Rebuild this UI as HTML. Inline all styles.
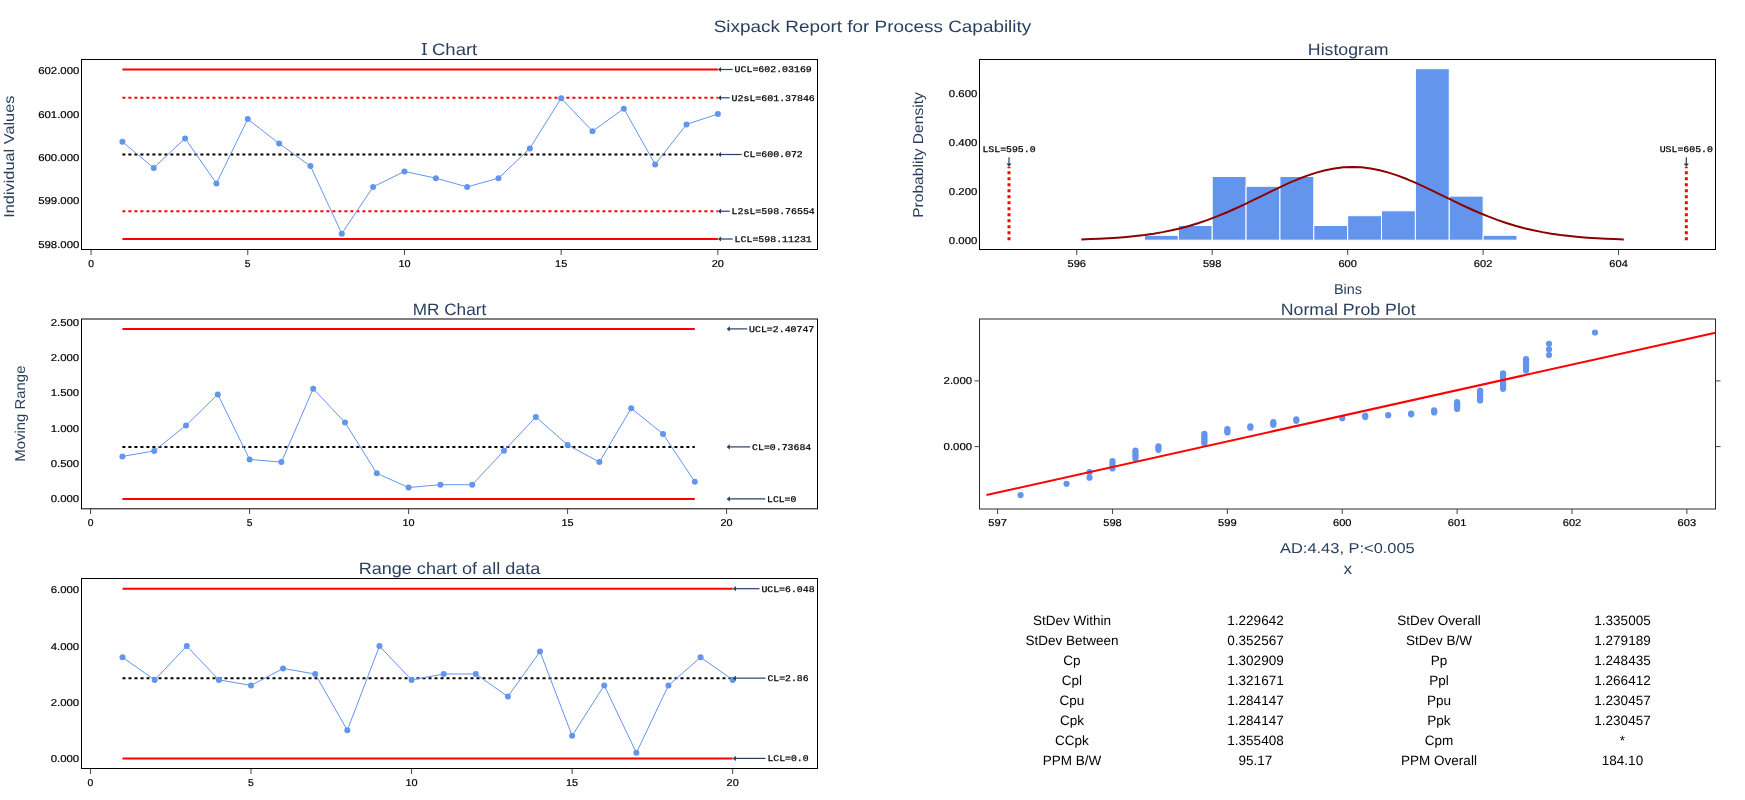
<!DOCTYPE html><html><head><meta charset="utf-8"><style>html,body{margin:0;padding:0;background:#fff;overflow:hidden}svg{display:block;will-change:transform}</style></head><body><svg width="1745" height="800" viewBox="0 0 1745 800" text-rendering="geometricPrecision">
<rect width="1745" height="800" fill="#fff"/>
<text x="872.5" y="31.9" font-family="'Liberation Sans', sans-serif" font-size="16.5" fill="#2a3f5f" text-anchor="middle" textLength="317.5" lengthAdjust="spacingAndGlyphs">Sixpack Report for Process Capability</text>
<text x="449.5" y="54.9" font-family="'Liberation Sans', sans-serif" font-size="16.5" fill="#2a3f5f" text-anchor="middle" textLength="55.5" lengthAdjust="spacingAndGlyphs">I Chart</text>
<line x1="421.8" y1="43.6" x2="427" y2="43.6" stroke="#2a3f5f" stroke-width="1.1"/><line x1="421.8" y1="54.3" x2="427" y2="54.3" stroke="#2a3f5f" stroke-width="1.1"/>
<text x="1348.2" y="54.7" font-family="'Liberation Sans', sans-serif" font-size="16.5" fill="#2a3f5f" text-anchor="middle" textLength="80.7" lengthAdjust="spacingAndGlyphs">Histogram</text>
<text x="449.5" y="315.0" font-family="'Liberation Sans', sans-serif" font-size="16.5" fill="#2a3f5f" text-anchor="middle" textLength="73.3" lengthAdjust="spacingAndGlyphs">MR Chart</text>
<text x="1348.2" y="314.7" font-family="'Liberation Sans', sans-serif" font-size="16.5" fill="#2a3f5f" text-anchor="middle" textLength="134.9" lengthAdjust="spacingAndGlyphs">Normal Prob Plot</text>
<text x="449.5" y="573.9" font-family="'Liberation Sans', sans-serif" font-size="16.5" fill="#2a3f5f" text-anchor="middle" textLength="181.7" lengthAdjust="spacingAndGlyphs">Range chart of all data</text>
<text transform="translate(14.1,156.7) rotate(-90)" x="0" y="0" font-family="&quot;Liberation Sans&quot;, sans-serif" font-size="14.3" fill="#2a3f5f" text-anchor="middle" textLength="122.2" lengthAdjust="spacingAndGlyphs">Individual Values</text>
<text transform="translate(25.1,413.6) rotate(-90)" x="0" y="0" font-family="&quot;Liberation Sans&quot;, sans-serif" font-size="14.3" fill="#2a3f5f" text-anchor="middle" textLength="96.1" lengthAdjust="spacingAndGlyphs">Moving Range</text>
<text transform="translate(923.1,155.0) rotate(-90)" x="0" y="0" font-family="&quot;Liberation Sans&quot;, sans-serif" font-size="14.3" fill="#2a3f5f" text-anchor="middle" textLength="125.6" lengthAdjust="spacingAndGlyphs">Probablity Density</text>
<text x="1348" y="293.8" font-family="'Liberation Sans', sans-serif" font-size="14.3" fill="#2a3f5f" text-anchor="middle" textLength="28" lengthAdjust="spacingAndGlyphs">Bins</text>
<text x="1347.4" y="552.9" font-family="'Liberation Sans', sans-serif" font-size="14.3" fill="#2a3f5f" text-anchor="middle" textLength="134.7" lengthAdjust="spacingAndGlyphs">AD:4.43, P:&lt;0.005</text>
<text x="1347.7" y="573.8" font-family="'Liberation Sans', sans-serif" font-size="15.5" fill="#2a3f5f" text-anchor="middle" textLength="8.6" lengthAdjust="spacingAndGlyphs">x</text>
<rect x="81.5" y="59.5" width="736.0" height="190.0" fill="none" stroke="#000" stroke-width="1"/>
<line x1="91.06" y1="250" x2="91.06" y2="255" stroke="#444" stroke-width="1"/>
<line x1="247.76" y1="250" x2="247.76" y2="255" stroke="#444" stroke-width="1"/>
<line x1="404.46" y1="250" x2="404.46" y2="255" stroke="#444" stroke-width="1"/>
<line x1="561.1600000000001" y1="250" x2="561.1600000000001" y2="255" stroke="#444" stroke-width="1"/>
<line x1="717.8599999999999" y1="250" x2="717.8599999999999" y2="255" stroke="#444" stroke-width="1"/>
<text x="79.39999999999999" y="74.27492800000012" font-family="'Liberation Sans', sans-serif" font-size="10" fill="#000" text-anchor="end" textLength="41.2" lengthAdjust="spacingAndGlyphs" stroke="#000" stroke-width="0.2" stroke-linejoin="round">602.000</text>
<text x="79.39999999999999" y="117.64892800000013" font-family="'Liberation Sans', sans-serif" font-size="10" fill="#000" text-anchor="end" textLength="41.2" lengthAdjust="spacingAndGlyphs" stroke="#000" stroke-width="0.2" stroke-linejoin="round">601.000</text>
<text x="79.39999999999999" y="161.02292800000012" font-family="'Liberation Sans', sans-serif" font-size="10" fill="#000" text-anchor="end" textLength="41.2" lengthAdjust="spacingAndGlyphs" stroke="#000" stroke-width="0.2" stroke-linejoin="round">600.000</text>
<text x="79.39999999999999" y="204.39692800000012" font-family="'Liberation Sans', sans-serif" font-size="10" fill="#000" text-anchor="end" textLength="41.2" lengthAdjust="spacingAndGlyphs" stroke="#000" stroke-width="0.2" stroke-linejoin="round">599.000</text>
<text x="79.39999999999999" y="247.7709280000001" font-family="'Liberation Sans', sans-serif" font-size="10" fill="#000" text-anchor="end" textLength="41.2" lengthAdjust="spacingAndGlyphs" stroke="#000" stroke-width="0.2" stroke-linejoin="round">598.000</text>
<text x="91.06" y="266.8" font-family="'Liberation Sans', sans-serif" font-size="10" fill="#000" text-anchor="middle" textLength="5.76" lengthAdjust="spacingAndGlyphs" stroke="#000" stroke-width="0.2" stroke-linejoin="round">0</text>
<text x="247.76" y="266.8" font-family="'Liberation Sans', sans-serif" font-size="10" fill="#000" text-anchor="middle" textLength="5.76" lengthAdjust="spacingAndGlyphs" stroke="#000" stroke-width="0.2" stroke-linejoin="round">5</text>
<text x="404.46" y="266.8" font-family="'Liberation Sans', sans-serif" font-size="10" fill="#000" text-anchor="middle" textLength="12.12" lengthAdjust="spacingAndGlyphs" stroke="#000" stroke-width="0.2" stroke-linejoin="round">10</text>
<text x="561.1600000000001" y="266.8" font-family="'Liberation Sans', sans-serif" font-size="10" fill="#000" text-anchor="middle" textLength="12.12" lengthAdjust="spacingAndGlyphs" stroke="#000" stroke-width="0.2" stroke-linejoin="round">15</text>
<text x="717.8599999999999" y="266.8" font-family="'Liberation Sans', sans-serif" font-size="10" fill="#000" text-anchor="middle" textLength="12.12" lengthAdjust="spacingAndGlyphs" stroke="#000" stroke-width="0.2" stroke-linejoin="round">20</text>
<line x1="122.4" y1="69.5" x2="717.8599999999999" y2="69.5" stroke="red" stroke-width="2"/>
<line x1="122.4" y1="97.8" x2="717.8599999999999" y2="97.8" stroke="red" stroke-width="2" stroke-dasharray="3,3"/>
<line x1="122.4" y1="154.5" x2="717.8599999999999" y2="154.5" stroke="#000" stroke-width="2" stroke-dasharray="3,3"/>
<line x1="122.4" y1="211.2" x2="717.8599999999999" y2="211.2" stroke="red" stroke-width="2" stroke-dasharray="3,3"/>
<line x1="122.4" y1="239.0" x2="717.8599999999999" y2="239.0" stroke="red" stroke-width="2"/>
<polyline points="122.40,141.80 153.74,167.90 185.08,138.40 216.42,183.40 247.76,119.10 279.10,143.50 310.44,166.10 341.78,233.70 373.12,186.90 404.46,171.40 435.80,178.20 467.14,186.90 498.48,178.20 529.82,148.40 561.16,98.30 592.50,131.20 623.84,108.70 655.18,164.40 686.52,124.40 717.86,114.00" fill="none" stroke="#6495ED" stroke-width="1" stroke-linejoin="round"/>
<circle cx="122.40" cy="141.80" r="3" fill="#6495ED"/>
<circle cx="153.74" cy="167.90" r="3" fill="#6495ED"/>
<circle cx="185.08" cy="138.40" r="3" fill="#6495ED"/>
<circle cx="216.42" cy="183.40" r="3" fill="#6495ED"/>
<circle cx="247.76" cy="119.10" r="3" fill="#6495ED"/>
<circle cx="279.10" cy="143.50" r="3" fill="#6495ED"/>
<circle cx="310.44" cy="166.10" r="3" fill="#6495ED"/>
<circle cx="341.78" cy="233.70" r="3" fill="#6495ED"/>
<circle cx="373.12" cy="186.90" r="3" fill="#6495ED"/>
<circle cx="404.46" cy="171.40" r="3" fill="#6495ED"/>
<circle cx="435.80" cy="178.20" r="3" fill="#6495ED"/>
<circle cx="467.14" cy="186.90" r="3" fill="#6495ED"/>
<circle cx="498.48" cy="178.20" r="3" fill="#6495ED"/>
<circle cx="529.82" cy="148.40" r="3" fill="#6495ED"/>
<circle cx="561.16" cy="98.30" r="3" fill="#6495ED"/>
<circle cx="592.50" cy="131.20" r="3" fill="#6495ED"/>
<circle cx="623.84" cy="108.70" r="3" fill="#6495ED"/>
<circle cx="655.18" cy="164.40" r="3" fill="#6495ED"/>
<circle cx="686.52" cy="124.40" r="3" fill="#6495ED"/>
<circle cx="717.86" cy="114.00" r="3" fill="#6495ED"/>
<line x1="719.8599999999999" y1="69.5" x2="732.7" y2="69.5" stroke="#2a3f5f" stroke-width="1.2"/>
<path d="M717.8599999999999,69.5 L721.06,66.9 L721.06,72.1 Z" fill="#2a3f5f"/>
<text x="773.2" y="72.4" font-family="'Liberation Mono', monospace" font-size="8.7" fill="#000" text-anchor="middle" textLength="77.2" lengthAdjust="spacingAndGlyphs" stroke="#000" stroke-width="0.25" stroke-linejoin="round">UCL=602.03169</text>
<line x1="719.8599999999999" y1="97.8" x2="729.7" y2="97.8" stroke="#2a3f5f" stroke-width="1.2"/>
<path d="M717.8599999999999,97.8 L721.06,95.2 L721.06,100.39999999999999 Z" fill="#2a3f5f"/>
<text x="773.2" y="100.7" font-family="'Liberation Mono', monospace" font-size="8.7" fill="#000" text-anchor="middle" textLength="83.2" lengthAdjust="spacingAndGlyphs" stroke="#000" stroke-width="0.25" stroke-linejoin="round">U2sL=601.37846</text>
<line x1="719.8599999999999" y1="154.5" x2="741.7" y2="154.5" stroke="#2a3f5f" stroke-width="1.2"/>
<path d="M717.8599999999999,154.5 L721.06,151.9 L721.06,157.1 Z" fill="#2a3f5f"/>
<text x="773.2" y="157.4" font-family="'Liberation Mono', monospace" font-size="8.7" fill="#000" text-anchor="middle" textLength="59.2" lengthAdjust="spacingAndGlyphs" stroke="#000" stroke-width="0.25" stroke-linejoin="round">CL=600.072</text>
<line x1="719.8599999999999" y1="211.2" x2="729.7" y2="211.2" stroke="#2a3f5f" stroke-width="1.2"/>
<path d="M717.8599999999999,211.2 L721.06,208.6 L721.06,213.79999999999998 Z" fill="#2a3f5f"/>
<text x="773.2" y="214.1" font-family="'Liberation Mono', monospace" font-size="8.7" fill="#000" text-anchor="middle" textLength="83.2" lengthAdjust="spacingAndGlyphs" stroke="#000" stroke-width="0.25" stroke-linejoin="round">L2sL=598.76554</text>
<line x1="719.8599999999999" y1="239.0" x2="732.7" y2="239.0" stroke="#2a3f5f" stroke-width="1.2"/>
<path d="M717.8599999999999,239.0 L721.06,236.4 L721.06,241.6 Z" fill="#2a3f5f"/>
<text x="773.2" y="241.9" font-family="'Liberation Mono', monospace" font-size="8.7" fill="#000" text-anchor="middle" textLength="77.2" lengthAdjust="spacingAndGlyphs" stroke="#000" stroke-width="0.25" stroke-linejoin="round">LCL=598.11231</text>
<rect x="81.5" y="319" width="736.0" height="189.8" fill="none" stroke="#000" stroke-width="1"/>
<line x1="90.6" y1="509" x2="90.6" y2="514" stroke="#444" stroke-width="1"/>
<line x1="249.6" y1="509" x2="249.6" y2="514" stroke="#444" stroke-width="1"/>
<line x1="408.6" y1="509" x2="408.6" y2="514" stroke="#444" stroke-width="1"/>
<line x1="567.6" y1="509" x2="567.6" y2="514" stroke="#444" stroke-width="1"/>
<line x1="726.6" y1="509" x2="726.6" y2="514" stroke="#444" stroke-width="1"/>
<text x="79.19999999999999" y="325.775" font-family="'Liberation Sans', sans-serif" font-size="10" fill="#000" text-anchor="end" textLength="28.48" lengthAdjust="spacingAndGlyphs" stroke="#000" stroke-width="0.2" stroke-linejoin="round">2.500</text>
<text x="79.19999999999999" y="361.0799999999999" font-family="'Liberation Sans', sans-serif" font-size="10" fill="#000" text-anchor="end" textLength="28.48" lengthAdjust="spacingAndGlyphs" stroke="#000" stroke-width="0.2" stroke-linejoin="round">2.000</text>
<text x="79.19999999999999" y="396.385" font-family="'Liberation Sans', sans-serif" font-size="10" fill="#000" text-anchor="end" textLength="28.48" lengthAdjust="spacingAndGlyphs" stroke="#000" stroke-width="0.2" stroke-linejoin="round">1.500</text>
<text x="79.19999999999999" y="431.68999999999994" font-family="'Liberation Sans', sans-serif" font-size="10" fill="#000" text-anchor="end" textLength="28.48" lengthAdjust="spacingAndGlyphs" stroke="#000" stroke-width="0.2" stroke-linejoin="round">1.000</text>
<text x="79.19999999999999" y="466.99499999999995" font-family="'Liberation Sans', sans-serif" font-size="10" fill="#000" text-anchor="end" textLength="28.48" lengthAdjust="spacingAndGlyphs" stroke="#000" stroke-width="0.2" stroke-linejoin="round">0.500</text>
<text x="79.19999999999999" y="502.29999999999995" font-family="'Liberation Sans', sans-serif" font-size="10" fill="#000" text-anchor="end" textLength="28.48" lengthAdjust="spacingAndGlyphs" stroke="#000" stroke-width="0.2" stroke-linejoin="round">0.000</text>
<text x="90.6" y="526.0" font-family="'Liberation Sans', sans-serif" font-size="10" fill="#000" text-anchor="middle" textLength="5.76" lengthAdjust="spacingAndGlyphs" stroke="#000" stroke-width="0.2" stroke-linejoin="round">0</text>
<text x="249.6" y="526.0" font-family="'Liberation Sans', sans-serif" font-size="10" fill="#000" text-anchor="middle" textLength="5.76" lengthAdjust="spacingAndGlyphs" stroke="#000" stroke-width="0.2" stroke-linejoin="round">5</text>
<text x="408.6" y="526.0" font-family="'Liberation Sans', sans-serif" font-size="10" fill="#000" text-anchor="middle" textLength="12.12" lengthAdjust="spacingAndGlyphs" stroke="#000" stroke-width="0.2" stroke-linejoin="round">10</text>
<text x="567.6" y="526.0" font-family="'Liberation Sans', sans-serif" font-size="10" fill="#000" text-anchor="middle" textLength="12.12" lengthAdjust="spacingAndGlyphs" stroke="#000" stroke-width="0.2" stroke-linejoin="round">15</text>
<text x="726.6" y="526.0" font-family="'Liberation Sans', sans-serif" font-size="10" fill="#000" text-anchor="middle" textLength="12.12" lengthAdjust="spacingAndGlyphs" stroke="#000" stroke-width="0.2" stroke-linejoin="round">20</text>
<line x1="122.39999999999999" y1="328.9" x2="694.8000000000001" y2="328.9" stroke="red" stroke-width="2"/>
<line x1="122.39999999999999" y1="446.9" x2="694.8000000000001" y2="446.9" stroke="#000" stroke-width="2" stroke-dasharray="3,3"/>
<line x1="122.39999999999999" y1="498.9" x2="694.8000000000001" y2="498.9" stroke="red" stroke-width="2"/>
<polyline points="122.40,456.45 154.20,450.90 186.00,425.40 217.80,394.40 249.60,459.40 281.40,462.10 313.20,388.70 345.00,422.50 376.80,473.35 408.60,487.50 440.40,484.70 472.20,484.70 504.00,450.80 535.80,417.00 567.60,444.90 599.40,462.10 631.20,408.30 663.00,433.90 694.80,481.80" fill="none" stroke="#6495ED" stroke-width="1" stroke-linejoin="round"/>
<circle cx="122.40" cy="456.45" r="3" fill="#6495ED"/>
<circle cx="154.20" cy="450.90" r="3" fill="#6495ED"/>
<circle cx="186.00" cy="425.40" r="3" fill="#6495ED"/>
<circle cx="217.80" cy="394.40" r="3" fill="#6495ED"/>
<circle cx="249.60" cy="459.40" r="3" fill="#6495ED"/>
<circle cx="281.40" cy="462.10" r="3" fill="#6495ED"/>
<circle cx="313.20" cy="388.70" r="3" fill="#6495ED"/>
<circle cx="345.00" cy="422.50" r="3" fill="#6495ED"/>
<circle cx="376.80" cy="473.35" r="3" fill="#6495ED"/>
<circle cx="408.60" cy="487.50" r="3" fill="#6495ED"/>
<circle cx="440.40" cy="484.70" r="3" fill="#6495ED"/>
<circle cx="472.20" cy="484.70" r="3" fill="#6495ED"/>
<circle cx="504.00" cy="450.80" r="3" fill="#6495ED"/>
<circle cx="535.80" cy="417.00" r="3" fill="#6495ED"/>
<circle cx="567.60" cy="444.90" r="3" fill="#6495ED"/>
<circle cx="599.40" cy="462.10" r="3" fill="#6495ED"/>
<circle cx="631.20" cy="408.30" r="3" fill="#6495ED"/>
<circle cx="663.00" cy="433.90" r="3" fill="#6495ED"/>
<circle cx="694.80" cy="481.80" r="3" fill="#6495ED"/>
<line x1="728.6" y1="328.9" x2="747.2" y2="328.9" stroke="#2a3f5f" stroke-width="1.2"/>
<path d="M726.6,328.9 L729.8000000000001,326.29999999999995 L729.8000000000001,331.5 Z" fill="#2a3f5f"/>
<text x="781.7" y="331.79999999999995" font-family="'Liberation Mono', monospace" font-size="8.7" fill="#000" text-anchor="middle" textLength="65.2" lengthAdjust="spacingAndGlyphs" stroke="#000" stroke-width="0.25" stroke-linejoin="round">UCL=2.40747</text>
<line x1="728.6" y1="446.9" x2="750.2" y2="446.9" stroke="#2a3f5f" stroke-width="1.2"/>
<path d="M726.6,446.9 L729.8000000000001,444.29999999999995 L729.8000000000001,449.5 Z" fill="#2a3f5f"/>
<text x="781.7" y="449.79999999999995" font-family="'Liberation Mono', monospace" font-size="8.7" fill="#000" text-anchor="middle" textLength="59.2" lengthAdjust="spacingAndGlyphs" stroke="#000" stroke-width="0.25" stroke-linejoin="round">CL=0.73684</text>
<line x1="728.6" y1="498.9" x2="765.2" y2="498.9" stroke="#2a3f5f" stroke-width="1.2"/>
<path d="M726.6,498.9 L729.8000000000001,496.29999999999995 L729.8000000000001,501.5 Z" fill="#2a3f5f"/>
<text x="781.7" y="501.79999999999995" font-family="'Liberation Mono', monospace" font-size="8.7" fill="#000" text-anchor="middle" textLength="29.2" lengthAdjust="spacingAndGlyphs" stroke="#000" stroke-width="0.25" stroke-linejoin="round">LCL=0</text>
<rect x="81.5" y="578.5" width="736.0" height="190.0" fill="none" stroke="#000" stroke-width="1"/>
<line x1="90.4" y1="769" x2="90.4" y2="774" stroke="#444" stroke-width="1"/>
<line x1="250.97500000000002" y1="769" x2="250.97500000000002" y2="774" stroke="#444" stroke-width="1"/>
<line x1="411.55000000000007" y1="769" x2="411.55000000000007" y2="774" stroke="#444" stroke-width="1"/>
<line x1="572.125" y1="769" x2="572.125" y2="774" stroke="#444" stroke-width="1"/>
<line x1="732.7" y1="769" x2="732.7" y2="774" stroke="#444" stroke-width="1"/>
<text x="79.19999999999999" y="593.4399999999999" font-family="'Liberation Sans', sans-serif" font-size="10" fill="#000" text-anchor="end" textLength="28.48" lengthAdjust="spacingAndGlyphs" stroke="#000" stroke-width="0.2" stroke-linejoin="round">6.000</text>
<text x="79.19999999999999" y="649.56" font-family="'Liberation Sans', sans-serif" font-size="10" fill="#000" text-anchor="end" textLength="28.48" lengthAdjust="spacingAndGlyphs" stroke="#000" stroke-width="0.2" stroke-linejoin="round">4.000</text>
<text x="79.19999999999999" y="705.68" font-family="'Liberation Sans', sans-serif" font-size="10" fill="#000" text-anchor="end" textLength="28.48" lengthAdjust="spacingAndGlyphs" stroke="#000" stroke-width="0.2" stroke-linejoin="round">2.000</text>
<text x="79.19999999999999" y="761.8" font-family="'Liberation Sans', sans-serif" font-size="10" fill="#000" text-anchor="end" textLength="28.48" lengthAdjust="spacingAndGlyphs" stroke="#000" stroke-width="0.2" stroke-linejoin="round">0.000</text>
<text x="90.4" y="786.0" font-family="'Liberation Sans', sans-serif" font-size="10" fill="#000" text-anchor="middle" textLength="5.76" lengthAdjust="spacingAndGlyphs" stroke="#000" stroke-width="0.2" stroke-linejoin="round">0</text>
<text x="250.97500000000002" y="786.0" font-family="'Liberation Sans', sans-serif" font-size="10" fill="#000" text-anchor="middle" textLength="5.76" lengthAdjust="spacingAndGlyphs" stroke="#000" stroke-width="0.2" stroke-linejoin="round">5</text>
<text x="411.55000000000007" y="786.0" font-family="'Liberation Sans', sans-serif" font-size="10" fill="#000" text-anchor="middle" textLength="12.12" lengthAdjust="spacingAndGlyphs" stroke="#000" stroke-width="0.2" stroke-linejoin="round">10</text>
<text x="572.125" y="786.0" font-family="'Liberation Sans', sans-serif" font-size="10" fill="#000" text-anchor="middle" textLength="12.12" lengthAdjust="spacingAndGlyphs" stroke="#000" stroke-width="0.2" stroke-linejoin="round">15</text>
<text x="732.7" y="786.0" font-family="'Liberation Sans', sans-serif" font-size="10" fill="#000" text-anchor="middle" textLength="12.12" lengthAdjust="spacingAndGlyphs" stroke="#000" stroke-width="0.2" stroke-linejoin="round">20</text>
<line x1="122.51500000000001" y1="588.7" x2="732.7" y2="588.7" stroke="red" stroke-width="2"/>
<line x1="122.51500000000001" y1="678.15" x2="732.7" y2="678.15" stroke="#000" stroke-width="2" stroke-dasharray="3,3"/>
<line x1="122.51500000000001" y1="758.4" x2="732.7" y2="758.4" stroke="red" stroke-width="2"/>
<polyline points="122.52,657.30 154.63,679.90 186.75,646.10 218.86,679.90 250.98,685.40 283.09,668.50 315.21,674.00 347.32,730.30 379.44,646.10 411.55,679.90 443.67,674.00 475.78,674.00 507.89,696.60 540.01,651.60 572.12,735.80 604.24,685.40 636.36,752.80 668.47,685.40 700.59,657.30 732.70,679.90" fill="none" stroke="#6495ED" stroke-width="1" stroke-linejoin="round"/>
<circle cx="122.52" cy="657.30" r="3" fill="#6495ED"/>
<circle cx="154.63" cy="679.90" r="3" fill="#6495ED"/>
<circle cx="186.75" cy="646.10" r="3" fill="#6495ED"/>
<circle cx="218.86" cy="679.90" r="3" fill="#6495ED"/>
<circle cx="250.98" cy="685.40" r="3" fill="#6495ED"/>
<circle cx="283.09" cy="668.50" r="3" fill="#6495ED"/>
<circle cx="315.21" cy="674.00" r="3" fill="#6495ED"/>
<circle cx="347.32" cy="730.30" r="3" fill="#6495ED"/>
<circle cx="379.44" cy="646.10" r="3" fill="#6495ED"/>
<circle cx="411.55" cy="679.90" r="3" fill="#6495ED"/>
<circle cx="443.67" cy="674.00" r="3" fill="#6495ED"/>
<circle cx="475.78" cy="674.00" r="3" fill="#6495ED"/>
<circle cx="507.89" cy="696.60" r="3" fill="#6495ED"/>
<circle cx="540.01" cy="651.60" r="3" fill="#6495ED"/>
<circle cx="572.12" cy="735.80" r="3" fill="#6495ED"/>
<circle cx="604.24" cy="685.40" r="3" fill="#6495ED"/>
<circle cx="636.36" cy="752.80" r="3" fill="#6495ED"/>
<circle cx="668.47" cy="685.40" r="3" fill="#6495ED"/>
<circle cx="700.59" cy="657.30" r="3" fill="#6495ED"/>
<circle cx="732.70" cy="679.90" r="3" fill="#6495ED"/>
<line x1="734.7" y1="588.7" x2="759.5" y2="588.7" stroke="#2a3f5f" stroke-width="1.2"/>
<path d="M732.7,588.7 L735.9000000000001,586.1 L735.9000000000001,591.3000000000001 Z" fill="#2a3f5f"/>
<text x="788.0" y="591.6" font-family="'Liberation Mono', monospace" font-size="8.7" fill="#000" text-anchor="middle" textLength="53.2" lengthAdjust="spacingAndGlyphs" stroke="#000" stroke-width="0.25" stroke-linejoin="round">UCL=6.048</text>
<line x1="734.7" y1="678.15" x2="765.5" y2="678.15" stroke="#2a3f5f" stroke-width="1.2"/>
<path d="M732.7,678.15 L735.9000000000001,675.55 L735.9000000000001,680.75 Z" fill="#2a3f5f"/>
<text x="788.0" y="681.05" font-family="'Liberation Mono', monospace" font-size="8.7" fill="#000" text-anchor="middle" textLength="41.2" lengthAdjust="spacingAndGlyphs" stroke="#000" stroke-width="0.25" stroke-linejoin="round">CL=2.86</text>
<line x1="734.7" y1="758.4" x2="765.5" y2="758.4" stroke="#2a3f5f" stroke-width="1.2"/>
<path d="M732.7,758.4 L735.9000000000001,755.8 L735.9000000000001,761.0 Z" fill="#2a3f5f"/>
<text x="788.0" y="761.3" font-family="'Liberation Mono', monospace" font-size="8.7" fill="#000" text-anchor="middle" textLength="41.2" lengthAdjust="spacingAndGlyphs" stroke="#000" stroke-width="0.25" stroke-linejoin="round">LCL=0.0</text>
<rect x="979.5" y="59.5" width="736.0" height="190.0" fill="none" stroke="#000" stroke-width="1"/>
<line x1="1076.74" y1="250" x2="1076.74" y2="255" stroke="#444" stroke-width="1"/>
<line x1="1212.2" y1="250" x2="1212.2" y2="255" stroke="#444" stroke-width="1"/>
<line x1="1347.66" y1="250" x2="1347.66" y2="255" stroke="#444" stroke-width="1"/>
<line x1="1483.1200000000001" y1="250" x2="1483.1200000000001" y2="255" stroke="#444" stroke-width="1"/>
<line x1="1618.58" y1="250" x2="1618.58" y2="255" stroke="#444" stroke-width="1"/>
<text x="977.35" y="96.6" font-family="'Liberation Sans', sans-serif" font-size="10" fill="#000" text-anchor="end" textLength="28.48" lengthAdjust="spacingAndGlyphs" stroke="#000" stroke-width="0.2" stroke-linejoin="round">0.600</text>
<text x="977.35" y="145.6" font-family="'Liberation Sans', sans-serif" font-size="10" fill="#000" text-anchor="end" textLength="28.48" lengthAdjust="spacingAndGlyphs" stroke="#000" stroke-width="0.2" stroke-linejoin="round">0.400</text>
<text x="977.35" y="194.6" font-family="'Liberation Sans', sans-serif" font-size="10" fill="#000" text-anchor="end" textLength="28.48" lengthAdjust="spacingAndGlyphs" stroke="#000" stroke-width="0.2" stroke-linejoin="round">0.200</text>
<text x="977.35" y="243.6" font-family="'Liberation Sans', sans-serif" font-size="10" fill="#000" text-anchor="end" textLength="28.48" lengthAdjust="spacingAndGlyphs" stroke="#000" stroke-width="0.2" stroke-linejoin="round">0.000</text>
<text x="1076.74" y="266.8" font-family="'Liberation Sans', sans-serif" font-size="10" fill="#000" text-anchor="middle" textLength="18.48" lengthAdjust="spacingAndGlyphs" stroke="#000" stroke-width="0.2" stroke-linejoin="round">596</text>
<text x="1212.2" y="266.8" font-family="'Liberation Sans', sans-serif" font-size="10" fill="#000" text-anchor="middle" textLength="18.48" lengthAdjust="spacingAndGlyphs" stroke="#000" stroke-width="0.2" stroke-linejoin="round">598</text>
<text x="1347.66" y="266.8" font-family="'Liberation Sans', sans-serif" font-size="10" fill="#000" text-anchor="middle" textLength="18.48" lengthAdjust="spacingAndGlyphs" stroke="#000" stroke-width="0.2" stroke-linejoin="round">600</text>
<text x="1483.1200000000001" y="266.8" font-family="'Liberation Sans', sans-serif" font-size="10" fill="#000" text-anchor="middle" textLength="18.48" lengthAdjust="spacingAndGlyphs" stroke="#000" stroke-width="0.2" stroke-linejoin="round">602</text>
<text x="1618.58" y="266.8" font-family="'Liberation Sans', sans-serif" font-size="10" fill="#000" text-anchor="middle" textLength="18.48" lengthAdjust="spacingAndGlyphs" stroke="#000" stroke-width="0.2" stroke-linejoin="round">604</text>
<rect x="1144.47" y="235.30" width="33.87" height="4.90" fill="#6495ED" stroke="#fff" stroke-width="1"/>
<rect x="1178.34" y="225.50" width="33.87" height="14.70" fill="#6495ED" stroke="#fff" stroke-width="1"/>
<rect x="1212.20" y="176.50" width="33.87" height="63.70" fill="#6495ED" stroke="#fff" stroke-width="1"/>
<rect x="1246.07" y="186.30" width="33.87" height="53.90" fill="#6495ED" stroke="#fff" stroke-width="1"/>
<rect x="1279.93" y="176.50" width="33.87" height="63.70" fill="#6495ED" stroke="#fff" stroke-width="1"/>
<rect x="1313.80" y="225.50" width="33.87" height="14.70" fill="#6495ED" stroke="#fff" stroke-width="1"/>
<rect x="1347.66" y="215.70" width="33.87" height="24.50" fill="#6495ED" stroke="#fff" stroke-width="1"/>
<rect x="1381.53" y="210.80" width="33.87" height="29.40" fill="#6495ED" stroke="#fff" stroke-width="1"/>
<rect x="1415.39" y="68.70" width="33.87" height="171.50" fill="#6495ED" stroke="#fff" stroke-width="1"/>
<rect x="1449.26" y="196.10" width="33.87" height="44.10" fill="#6495ED" stroke="#fff" stroke-width="1"/>
<rect x="1483.12" y="235.30" width="33.87" height="4.90" fill="#6495ED" stroke="#fff" stroke-width="1"/>
<polyline points="1081.28,239.39 1090.32,239.11 1099.36,238.75 1108.40,238.29 1117.44,237.71 1126.49,236.98 1135.53,236.09 1144.57,235.00 1153.61,233.69 1162.65,232.13 1171.70,230.29 1180.74,228.16 1189.78,225.71 1198.82,222.94 1207.86,219.84 1216.91,216.43 1225.95,212.72 1234.99,208.75 1244.03,204.56 1253.07,200.22 1262.12,195.79 1271.16,191.37 1280.20,187.04 1289.24,182.90 1298.28,179.05 1307.33,175.59 1316.37,172.62 1325.41,170.21 1334.45,168.44 1343.49,167.35 1352.54,166.99 1361.58,167.35 1370.62,168.44 1379.66,170.21 1388.70,172.62 1397.75,175.59 1406.79,179.05 1415.83,182.90 1424.87,187.04 1433.91,191.37 1442.96,195.79 1452.00,200.22 1461.04,204.56 1470.08,208.75 1479.12,212.72 1488.17,216.43 1497.21,219.84 1506.25,222.94 1515.29,225.71 1524.33,228.16 1533.38,230.29 1542.42,232.13 1551.46,233.69 1560.50,235.00 1569.54,236.09 1578.59,236.98 1587.63,237.71 1596.67,238.29 1605.71,238.75 1614.75,239.11 1623.80,239.39" fill="none" stroke="#8B0000" stroke-width="2" stroke-linejoin="round"/>
<line x1="1009.01" y1="240.20" x2="1009.01" y2="166.70" stroke="red" stroke-width="3" stroke-dasharray="3,3"/>
<line x1="1686.31" y1="240.20" x2="1686.31" y2="166.70" stroke="red" stroke-width="3" stroke-dasharray="3,3"/>
<line x1="1009.01" y1="157.2" x2="1009.01" y2="164.7" stroke="#2a3f5f" stroke-width="1.2"/>
<path d="M1009.01,166.7 L1006.41,163.5 L1011.61,163.5 Z" fill="#2a3f5f"/>
<text x="1009.01" y="152.0" font-family="'Liberation Mono', monospace" font-size="8.7" fill="#000" text-anchor="middle" textLength="53.2" lengthAdjust="spacingAndGlyphs" stroke="#000" stroke-width="0.25" stroke-linejoin="round">LSL=595.0</text>
<line x1="1686.31" y1="157.2" x2="1686.31" y2="164.7" stroke="#2a3f5f" stroke-width="1.2"/>
<path d="M1686.31,166.7 L1683.71,163.5 L1688.9099999999999,163.5 Z" fill="#2a3f5f"/>
<text x="1686.31" y="152.0" font-family="'Liberation Mono', monospace" font-size="8.7" fill="#000" text-anchor="middle" textLength="53.2" lengthAdjust="spacingAndGlyphs" stroke="#000" stroke-width="0.25" stroke-linejoin="round">USL=605.0</text>
<rect x="979.5" y="319" width="736.0" height="190" fill="none" stroke="#2b2b2b" stroke-width="1"/>
<line x1="997.6" y1="509" x2="997.6" y2="514" stroke="#444" stroke-width="1"/>
<line x1="1112.48" y1="509" x2="1112.48" y2="514" stroke="#444" stroke-width="1"/>
<line x1="1227.3600000000001" y1="509" x2="1227.3600000000001" y2="514" stroke="#444" stroke-width="1"/>
<line x1="1342.24" y1="509" x2="1342.24" y2="514" stroke="#444" stroke-width="1"/>
<line x1="1457.12" y1="509" x2="1457.12" y2="514" stroke="#444" stroke-width="1"/>
<line x1="1572.0" y1="509" x2="1572.0" y2="514" stroke="#444" stroke-width="1"/>
<line x1="1686.88" y1="509" x2="1686.88" y2="514" stroke="#444" stroke-width="1"/>
<line x1="974.5" y1="446.6" x2="979.5" y2="446.6" stroke="#444" stroke-width="1"/>
<line x1="1715.5" y1="446.6" x2="1720.5" y2="446.6" stroke="#444" stroke-width="1"/>
<line x1="974.5" y1="380.90000000000003" x2="979.5" y2="380.90000000000003" stroke="#444" stroke-width="1"/>
<line x1="1715.5" y1="380.90000000000003" x2="1720.5" y2="380.90000000000003" stroke="#444" stroke-width="1"/>
<text x="972.1" y="384.3" font-family="'Liberation Sans', sans-serif" font-size="10" fill="#000" text-anchor="end" textLength="28.48" lengthAdjust="spacingAndGlyphs" stroke="#000" stroke-width="0.2" stroke-linejoin="round">2.000</text>
<text x="972.1" y="450.0" font-family="'Liberation Sans', sans-serif" font-size="10" fill="#000" text-anchor="end" textLength="28.48" lengthAdjust="spacingAndGlyphs" stroke="#000" stroke-width="0.2" stroke-linejoin="round">0.000</text>
<text x="997.6" y="526.0" font-family="'Liberation Sans', sans-serif" font-size="10" fill="#000" text-anchor="middle" textLength="18.48" lengthAdjust="spacingAndGlyphs" stroke="#000" stroke-width="0.2" stroke-linejoin="round">597</text>
<text x="1112.48" y="526.0" font-family="'Liberation Sans', sans-serif" font-size="10" fill="#000" text-anchor="middle" textLength="18.48" lengthAdjust="spacingAndGlyphs" stroke="#000" stroke-width="0.2" stroke-linejoin="round">598</text>
<text x="1227.3600000000001" y="526.0" font-family="'Liberation Sans', sans-serif" font-size="10" fill="#000" text-anchor="middle" textLength="18.48" lengthAdjust="spacingAndGlyphs" stroke="#000" stroke-width="0.2" stroke-linejoin="round">599</text>
<text x="1342.24" y="526.0" font-family="'Liberation Sans', sans-serif" font-size="10" fill="#000" text-anchor="middle" textLength="18.48" lengthAdjust="spacingAndGlyphs" stroke="#000" stroke-width="0.2" stroke-linejoin="round">600</text>
<text x="1457.12" y="526.0" font-family="'Liberation Sans', sans-serif" font-size="10" fill="#000" text-anchor="middle" textLength="18.48" lengthAdjust="spacingAndGlyphs" stroke="#000" stroke-width="0.2" stroke-linejoin="round">601</text>
<text x="1572.0" y="526.0" font-family="'Liberation Sans', sans-serif" font-size="10" fill="#000" text-anchor="middle" textLength="18.48" lengthAdjust="spacingAndGlyphs" stroke="#000" stroke-width="0.2" stroke-linejoin="round">602</text>
<text x="1686.88" y="526.0" font-family="'Liberation Sans', sans-serif" font-size="10" fill="#000" text-anchor="middle" textLength="18.48" lengthAdjust="spacingAndGlyphs" stroke="#000" stroke-width="0.2" stroke-linejoin="round">603</text>
<clipPath id="nclip"><rect x="979.5" y="319" width="736" height="189.5"/></clipPath>
<g clip-path="url(#nclip)">
<circle cx="1020.58" cy="495.10" r="3.1" fill="#6495ED"/>
<circle cx="1066.53" cy="483.80" r="3.1" fill="#6495ED"/>
<circle cx="1089.50" cy="472.20" r="3.1" fill="#6495ED"/>
<circle cx="1089.50" cy="477.70" r="3.1" fill="#6495ED"/>
<circle cx="1112.48" cy="461.00" r="3.1" fill="#6495ED"/>
<circle cx="1112.48" cy="463.50" r="3.1" fill="#6495ED"/>
<circle cx="1112.48" cy="466.00" r="3.1" fill="#6495ED"/>
<circle cx="1112.48" cy="468.50" r="3.1" fill="#6495ED"/>
<circle cx="1135.46" cy="450.50" r="3.1" fill="#6495ED"/>
<circle cx="1135.46" cy="452.50" r="3.1" fill="#6495ED"/>
<circle cx="1135.46" cy="454.50" r="3.1" fill="#6495ED"/>
<circle cx="1135.46" cy="456.50" r="3.1" fill="#6495ED"/>
<circle cx="1135.46" cy="458.50" r="3.1" fill="#6495ED"/>
<circle cx="1158.43" cy="446.25" r="3.1" fill="#6495ED"/>
<circle cx="1158.43" cy="448.05" r="3.1" fill="#6495ED"/>
<circle cx="1158.43" cy="449.85" r="3.1" fill="#6495ED"/>
<circle cx="1204.38" cy="433.85" r="3.1" fill="#6495ED"/>
<circle cx="1204.38" cy="435.71" r="3.1" fill="#6495ED"/>
<circle cx="1204.38" cy="437.57" r="3.1" fill="#6495ED"/>
<circle cx="1204.38" cy="439.43" r="3.1" fill="#6495ED"/>
<circle cx="1204.38" cy="441.29" r="3.1" fill="#6495ED"/>
<circle cx="1204.38" cy="443.15" r="3.1" fill="#6495ED"/>
<circle cx="1227.36" cy="429.15" r="3.1" fill="#6495ED"/>
<circle cx="1227.36" cy="430.80" r="3.1" fill="#6495ED"/>
<circle cx="1227.36" cy="432.45" r="3.1" fill="#6495ED"/>
<circle cx="1250.34" cy="426.35" r="3.1" fill="#6495ED"/>
<circle cx="1250.34" cy="427.75" r="3.1" fill="#6495ED"/>
<circle cx="1273.31" cy="422.05" r="3.1" fill="#6495ED"/>
<circle cx="1273.31" cy="423.45" r="3.1" fill="#6495ED"/>
<circle cx="1273.31" cy="424.85" r="3.1" fill="#6495ED"/>
<circle cx="1296.29" cy="419.45" r="3.1" fill="#6495ED"/>
<circle cx="1296.29" cy="420.85" r="3.1" fill="#6495ED"/>
<circle cx="1342.24" cy="418.20" r="3.1" fill="#6495ED"/>
<circle cx="1365.22" cy="415.60" r="3.1" fill="#6495ED"/>
<circle cx="1365.22" cy="417.00" r="3.1" fill="#6495ED"/>
<circle cx="1388.19" cy="415.20" r="3.1" fill="#6495ED"/>
<circle cx="1411.17" cy="413.50" r="3.1" fill="#6495ED"/>
<circle cx="1411.17" cy="414.30" r="3.1" fill="#6495ED"/>
<circle cx="1434.14" cy="410.30" r="3.1" fill="#6495ED"/>
<circle cx="1434.14" cy="411.35" r="3.1" fill="#6495ED"/>
<circle cx="1434.14" cy="412.40" r="3.1" fill="#6495ED"/>
<circle cx="1457.12" cy="402.00" r="3.1" fill="#6495ED"/>
<circle cx="1457.12" cy="403.40" r="3.1" fill="#6495ED"/>
<circle cx="1457.12" cy="404.80" r="3.1" fill="#6495ED"/>
<circle cx="1457.12" cy="406.20" r="3.1" fill="#6495ED"/>
<circle cx="1457.12" cy="407.60" r="3.1" fill="#6495ED"/>
<circle cx="1457.12" cy="409.00" r="3.1" fill="#6495ED"/>
<circle cx="1480.10" cy="390.50" r="3.1" fill="#6495ED"/>
<circle cx="1480.10" cy="391.93" r="3.1" fill="#6495ED"/>
<circle cx="1480.10" cy="393.36" r="3.1" fill="#6495ED"/>
<circle cx="1480.10" cy="394.79" r="3.1" fill="#6495ED"/>
<circle cx="1480.10" cy="396.21" r="3.1" fill="#6495ED"/>
<circle cx="1480.10" cy="397.64" r="3.1" fill="#6495ED"/>
<circle cx="1480.10" cy="399.07" r="3.1" fill="#6495ED"/>
<circle cx="1480.10" cy="400.50" r="3.1" fill="#6495ED"/>
<circle cx="1503.07" cy="373.30" r="3.1" fill="#6495ED"/>
<circle cx="1503.07" cy="374.71" r="3.1" fill="#6495ED"/>
<circle cx="1503.07" cy="376.12" r="3.1" fill="#6495ED"/>
<circle cx="1503.07" cy="377.53" r="3.1" fill="#6495ED"/>
<circle cx="1503.07" cy="378.94" r="3.1" fill="#6495ED"/>
<circle cx="1503.07" cy="380.35" r="3.1" fill="#6495ED"/>
<circle cx="1503.07" cy="381.75" r="3.1" fill="#6495ED"/>
<circle cx="1503.07" cy="383.16" r="3.1" fill="#6495ED"/>
<circle cx="1503.07" cy="384.57" r="3.1" fill="#6495ED"/>
<circle cx="1503.07" cy="385.98" r="3.1" fill="#6495ED"/>
<circle cx="1503.07" cy="387.39" r="3.1" fill="#6495ED"/>
<circle cx="1503.07" cy="388.80" r="3.1" fill="#6495ED"/>
<circle cx="1526.05" cy="359.20" r="3.1" fill="#6495ED"/>
<circle cx="1526.05" cy="360.61" r="3.1" fill="#6495ED"/>
<circle cx="1526.05" cy="362.02" r="3.1" fill="#6495ED"/>
<circle cx="1526.05" cy="363.44" r="3.1" fill="#6495ED"/>
<circle cx="1526.05" cy="364.85" r="3.1" fill="#6495ED"/>
<circle cx="1526.05" cy="366.26" r="3.1" fill="#6495ED"/>
<circle cx="1526.05" cy="367.68" r="3.1" fill="#6495ED"/>
<circle cx="1526.05" cy="369.09" r="3.1" fill="#6495ED"/>
<circle cx="1526.05" cy="370.50" r="3.1" fill="#6495ED"/>
<circle cx="1549.02" cy="343.75" r="3.1" fill="#6495ED"/>
<circle cx="1549.02" cy="349.38" r="3.1" fill="#6495ED"/>
<circle cx="1549.02" cy="355.00" r="3.1" fill="#6495ED"/>
<circle cx="1594.98" cy="332.50" r="3.1" fill="#6495ED"/>
<line x1="986.5" y1="495.0" x2="1715.5" y2="332.7" stroke="red" stroke-width="2"/>
</g>
<text x="1072" y="624.8" font-family="'Liberation Sans', sans-serif" font-size="13.5" fill="#000" text-anchor="middle">StDev Within</text>
<text x="1255.5" y="624.8" font-family="'Liberation Sans', sans-serif" font-size="13.5" fill="#000" text-anchor="middle">1.229642</text>
<text x="1439" y="624.8" font-family="'Liberation Sans', sans-serif" font-size="13.5" fill="#000" text-anchor="middle">StDev Overall</text>
<text x="1622.5" y="624.8" font-family="'Liberation Sans', sans-serif" font-size="13.5" fill="#000" text-anchor="middle">1.335005</text>
<text x="1072" y="644.8" font-family="'Liberation Sans', sans-serif" font-size="13.5" fill="#000" text-anchor="middle">StDev Between</text>
<text x="1255.5" y="644.8" font-family="'Liberation Sans', sans-serif" font-size="13.5" fill="#000" text-anchor="middle">0.352567</text>
<text x="1439" y="644.8" font-family="'Liberation Sans', sans-serif" font-size="13.5" fill="#000" text-anchor="middle">StDev B/W</text>
<text x="1622.5" y="644.8" font-family="'Liberation Sans', sans-serif" font-size="13.5" fill="#000" text-anchor="middle">1.279189</text>
<text x="1072" y="664.8" font-family="'Liberation Sans', sans-serif" font-size="13.5" fill="#000" text-anchor="middle">Cp</text>
<text x="1255.5" y="664.8" font-family="'Liberation Sans', sans-serif" font-size="13.5" fill="#000" text-anchor="middle">1.302909</text>
<text x="1439" y="664.8" font-family="'Liberation Sans', sans-serif" font-size="13.5" fill="#000" text-anchor="middle">Pp</text>
<text x="1622.5" y="664.8" font-family="'Liberation Sans', sans-serif" font-size="13.5" fill="#000" text-anchor="middle">1.248435</text>
<text x="1072" y="684.8" font-family="'Liberation Sans', sans-serif" font-size="13.5" fill="#000" text-anchor="middle">Cpl</text>
<text x="1255.5" y="684.8" font-family="'Liberation Sans', sans-serif" font-size="13.5" fill="#000" text-anchor="middle">1.321671</text>
<text x="1439" y="684.8" font-family="'Liberation Sans', sans-serif" font-size="13.5" fill="#000" text-anchor="middle">Ppl</text>
<text x="1622.5" y="684.8" font-family="'Liberation Sans', sans-serif" font-size="13.5" fill="#000" text-anchor="middle">1.266412</text>
<text x="1072" y="704.8" font-family="'Liberation Sans', sans-serif" font-size="13.5" fill="#000" text-anchor="middle">Cpu</text>
<text x="1255.5" y="704.8" font-family="'Liberation Sans', sans-serif" font-size="13.5" fill="#000" text-anchor="middle">1.284147</text>
<text x="1439" y="704.8" font-family="'Liberation Sans', sans-serif" font-size="13.5" fill="#000" text-anchor="middle">Ppu</text>
<text x="1622.5" y="704.8" font-family="'Liberation Sans', sans-serif" font-size="13.5" fill="#000" text-anchor="middle">1.230457</text>
<text x="1072" y="724.8" font-family="'Liberation Sans', sans-serif" font-size="13.5" fill="#000" text-anchor="middle">Cpk</text>
<text x="1255.5" y="724.8" font-family="'Liberation Sans', sans-serif" font-size="13.5" fill="#000" text-anchor="middle">1.284147</text>
<text x="1439" y="724.8" font-family="'Liberation Sans', sans-serif" font-size="13.5" fill="#000" text-anchor="middle">Ppk</text>
<text x="1622.5" y="724.8" font-family="'Liberation Sans', sans-serif" font-size="13.5" fill="#000" text-anchor="middle">1.230457</text>
<text x="1072" y="744.8" font-family="'Liberation Sans', sans-serif" font-size="13.5" fill="#000" text-anchor="middle">CCpk</text>
<text x="1255.5" y="744.8" font-family="'Liberation Sans', sans-serif" font-size="13.5" fill="#000" text-anchor="middle">1.355408</text>
<text x="1439" y="744.8" font-family="'Liberation Sans', sans-serif" font-size="13.5" fill="#000" text-anchor="middle">Cpm</text>
<text x="1622.5" y="744.8" font-family="'Liberation Sans', sans-serif" font-size="13.5" fill="#000" text-anchor="middle">*</text>
<text x="1072" y="764.8" font-family="'Liberation Sans', sans-serif" font-size="13.5" fill="#000" text-anchor="middle">PPM B/W</text>
<text x="1255.5" y="764.8" font-family="'Liberation Sans', sans-serif" font-size="13.5" fill="#000" text-anchor="middle">95.17</text>
<text x="1439" y="764.8" font-family="'Liberation Sans', sans-serif" font-size="13.5" fill="#000" text-anchor="middle">PPM Overall</text>
<text x="1622.5" y="764.8" font-family="'Liberation Sans', sans-serif" font-size="13.5" fill="#000" text-anchor="middle">184.10</text>
</svg></body></html>
